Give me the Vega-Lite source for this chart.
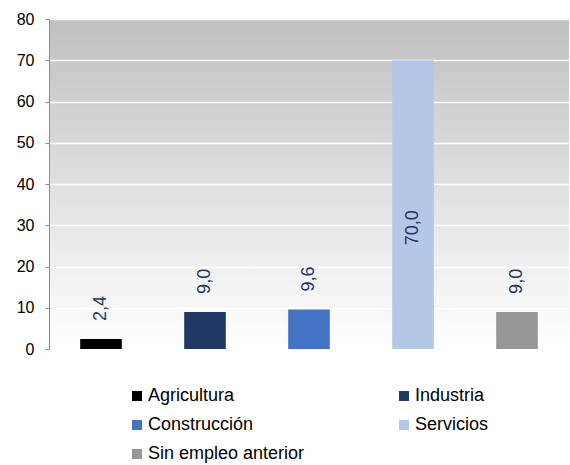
{
  "$schema": "https://vega.github.io/schema/vega-lite/v6.json",
  "autosize": "none",
  "width": 520,
  "height": 330,
  "padding": {"left": 49, "top": 19, "right": 1, "bottom": 116},
  "background": "white",
  "view": {
    "stroke": null,
    "fill": {
      "gradient": "linear",
      "x1": 0, "y1": 0, "x2": 0, "y2": 1,
      "stops": [
        {"offset": 0, "color": "#c0c0c0"},
        {"offset": 1, "color": "#ffffff"}
      ]
    }
  },
  "config": {
    "font": "Liberation Sans",
    "locale": {"number": {"decimal": ",", "thousands": ".", "grouping": [3], "currency": ["", " €"]}}
  },
  "data": {
    "values": [
      {"sector": "Agricultura", "valor": 2.4},
      {"sector": "Industria", "valor": 9.0},
      {"sector": "Construcción", "valor": 9.6},
      {"sector": "Servicios", "valor": 70.0},
      {"sector": "Sin empleo anterior", "valor": 9.0}
    ]
  },
  "encoding": {
    "x": {
      "field": "sector", "type": "nominal", "sort": null, "axis": null,
      "scale": {"paddingInner": 0.6, "paddingOuter": 0.3}
    },
    "y": {
      "field": "valor", "type": "quantitative",
      "scale": {"domain": [0, 80], "nice": false},
      "axis": {
        "title": null,
        "values": [0, 10, 20, 30, 40, 50, 60, 70, 80],
        "labelFontSize": 16,
        "labelColor": "#000000",
        "labelPadding": 11,
        "tickSize": 4,
        "tickColor": "#8c8c8c",
        "domainColor": "#8c8c8c",
        "gridColor": "#ffffff",
        "gridWidth": 1.5,
        "gridOpacity": 1
      }
    }
  },
  "layer": [
    {
      "mark": {"type": "bar"},
      "encoding": {
        "color": {
          "field": "sector", "type": "nominal",
          "scale": {
            "domain": ["Agricultura", "Construcción", "Sin empleo anterior", "Industria", "Servicios"],
            "range": ["#000000", "#4472c4", "#969696", "#1f3864", "#b4c7e7"]
          },
          "legend": {
            "title": null,
            "orient": "none",
            "legendX": 79,
            "legendY": 368,
            "columns": 2,
            "columnPadding": 90,
            "rowPadding": 11,
            "symbolType": "square",
            "symbolSize": 100,
            "symbolStrokeWidth": 0,
            "labelFontSize": 18,
            "labelColor": "#000000",
            "labelOffset": 2,
            "labelLimit": 300
          }
        }
      }
    },
    {
      "transform": [{"filter": "datum.valor < 50"}],
      "mark": {"type": "text", "angle": 270, "align": "left", "baseline": "middle", "dx": 18, "fontSize": 18, "color": "#1f3864"},
      "encoding": {"text": {"field": "valor", "type": "quantitative", "format": ".1f"}}
    },
    {
      "transform": [{"filter": "datum.valor >= 50"}],
      "mark": {"type": "text", "angle": 270, "align": "left", "baseline": "middle", "dx": -185, "fontSize": 18, "color": "#1f3864"},
      "encoding": {"text": {"field": "valor", "type": "quantitative", "format": ".1f"}}
    }
  ]
}
